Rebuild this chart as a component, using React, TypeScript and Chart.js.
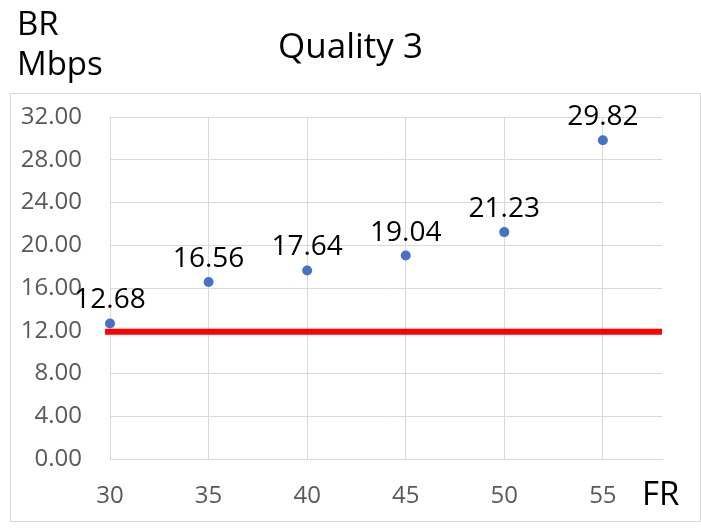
import { useEffect, useRef } from 'react';
import { Chart, registerables } from 'chart.js';

Chart.register(...registerables);

// data
const frameRates = [30, 35, 40, 45, 50, 55];
const bitRates = [12.68, 16.56, 17.64, 19.04, 21.23, 29.82];
const xTicks = [30, 35, 40, 45, 50, 55];
const limitRange = [29.75, 58];
const limitValue = 11.9;

const FONT = "'Open Sans', 'Noto Sans', sans-serif";

// box border, axis captions and point value labels
const decorPlugin = {
  id: 'decor',
  beforeDraw(chart: Chart) {
    const ctx = chart.ctx;
    ctx.save();
    ctx.fillStyle = '#ffffff';
    ctx.fillRect(0, 0, chart.width, chart.height);
    ctx.strokeStyle = '#d9d9d9';
    ctx.lineWidth = 1;
    ctx.strokeRect(10.5, 93.5, 690, 428);
    ctx.restore();
  },
  afterDatasetsDraw(chart: Chart) {
    const ctx = chart.ctx;
    const meta = chart.getDatasetMeta(0);
    ctx.save();
    ctx.fillStyle = '#000000';
    ctx.font = `28px ${FONT}`;
    ctx.textAlign = 'center';
    ctx.textBaseline = 'alphabetic';
    meta.data.forEach((el, i) => {
      ctx.fillText(bitRates[i].toFixed(2), el.x, el.y - 15);
    });
    ctx.restore();
  },
  afterDraw(chart: Chart) {
    const ctx = chart.ctx;
    ctx.save();
    ctx.fillStyle = '#000000';
    ctx.font = `33px ${FONT}`;
    ctx.textAlign = 'left';
    ctx.textBaseline = 'alphabetic';
    ctx.fillText('BR', 17, 35);
    ctx.fillText('Mbps', 17, 75);
    ctx.fillText('FR', 642, 505);
    ctx.restore();
  },
};

export default function App() {
  const canvasRef = useRef<HTMLCanvasElement>(null);

  useEffect(() => {
    if (!canvasRef.current) return;
    const chart = new Chart(canvasRef.current, {
      type: 'scatter',
      data: {
        datasets: [
          {
            label: 'BR',
            data: frameRates.map((x, i) => ({ x, y: bitRates[i] })),
            backgroundColor: '#4472c4',
            borderWidth: 0,
            pointRadius: 5,
            clip: false,
            order: 0,
          },
          {
            label: 'limit',
            data: limitRange.map((x) => ({ x, y: limitValue })),
            showLine: true,
            borderColor: '#ff0000',
            borderWidth: 6,
            pointRadius: 0,
            clip: false,
            order: 1,
          },
        ],
      },
      options: {
        responsive: false,
        animation: false,
        devicePixelRatio: 1,
        layout: { padding: 0 },
        plugins: {
          legend: { display: false },
          tooltip: { enabled: false },
          title: {
            display: true,
            text: 'Quality 3',
            color: '#000000',
            font: { family: FONT, size: 35, weight: 'normal' },
            padding: { top: 27, bottom: 48 },
          },
        },
        scales: {
          x: {
            type: 'linear',
            min: 30,
            max: 58,
            afterBuildTicks: (scale) => {
              scale.ticks = xTicks.map((value) => ({ value }));
            },
            afterFit: (scale) => {
              scale.height = 72;
            },
            grid: { color: '#d9d9d9', drawTicks: false },
            border: { color: '#d9d9d9' },
            ticks: {
              padding: 23,
              color: '#595959',
              font: { family: FONT, size: 24 },
            },
          },
          y: {
            min: 0,
            max: 32,
            afterFit: (scale) => {
              scale.width = 110;
            },
            grid: { color: '#d9d9d9', drawTicks: false },
            border: { color: '#d9d9d9' },
            ticks: {
              stepSize: 4,
              padding: 28,
              color: '#595959',
              font: { family: FONT, size: 24 },
              callback: (v) => Number(v).toFixed(2),
            },
          },
          // empty right-hand axis, only keeps the plot clear of the FR caption
          spacer: {
            type: 'linear',
            position: 'right',
            min: 0,
            max: 32,
            afterFit: (scale) => {
              scale.width = 39;
            },
            grid: { display: false },
            border: { display: false },
            ticks: { display: false },
          },
        },
      },
      plugins: [decorPlugin],
    });
    return () => chart.destroy();
  }, []);

  return (
    <div style={{ position: 'fixed', left: 0, top: 0, width: 701, height: 531, background: '#fff' }}>
      <canvas ref={canvasRef} width={701} height={531} />
    </div>
  );
}
